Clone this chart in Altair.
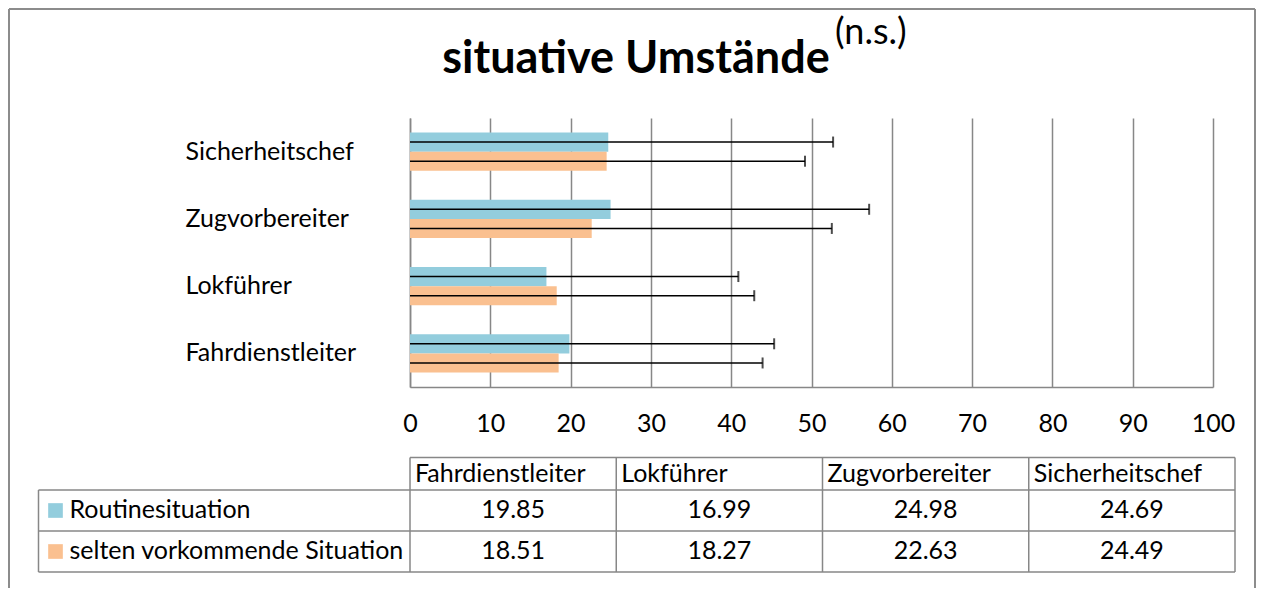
import altair as alt
import pandas as pd

# ---- data ----
categories = ["Fahrdienstleiter", "Lokführer", "Zugvorbereiter", "Sicherheitschef"]
series = ["Routinesituation", "selten vorkommende Situation"]
routine_mean = [19.85, 16.99, 24.98, 24.69]
selten_mean = [18.51, 18.27, 22.63, 24.49]
# standard deviations (length of the error bars, estimated)
routine_sd = [25.5, 23.9, 32.2, 28.0]
selten_sd = [25.4, 24.6, 29.9, 24.7]
x_ticks = [0, 10, 20, 30, 40, 50, 60, 70, 80, 90, 100]
title_main = "situative Umstände"
title_sup = "(n.s.)"

colors = ["#93CDDD", "#FAC090"]
FONT = "Lato"
FS = 25
GREY = "#878787"

rows = []
for i, s in enumerate(series):
    means = routine_mean if i == 0 else selten_mean
    sds = routine_sd if i == 0 else selten_sd
    for j, c in enumerate(categories):
        rows.append({"category": c, "series": s, "mean": means[j], "sd": sds[j],
                     "col": j, "row": i + 1})
df = pd.DataFrame(rows)

ycat = alt.Y("category:N", sort=categories[::-1],
             scale=alt.Scale(paddingInner=0.43, paddingOuter=0.215),
             axis=alt.Axis(title=None, labelFont=FONT, labelFontSize=FS, labelColor="#000",
                           labelAlign="left", labelBaseline="middle", labelPadding=225,
                           ticks=False, tickSize=0, domainColor=GREY, domainWidth=1.5,
                           grid=False))
yoff = alt.YOffset("series:N", sort=series)
colenc = alt.Color("series:N", sort=series,
                   scale=alt.Scale(domain=series, range=colors), legend=None)
xval = alt.X("mean:Q", scale=alt.Scale(domain=[0, 100], nice=False),
             axis=alt.Axis(title=None, values=x_ticks, grid=True, gridColor=GREY,
                           gridWidth=1.5, domainColor=GREY, domainWidth=1.5,
                           ticks=False, tickSize=0, labelPadding=24, labelFont=FONT,
                           labelFontSize=FS, labelColor="#000", labelFlush=False,
                           labelOverlap=False))

base = alt.Chart(df)
bars = base.mark_bar().encode(x=xval, y=ycat, yOffset=yoff, color=colenc)
err = base.transform_calculate(
    lo="max(0, datum.mean - datum.sd)", hi="datum.mean + datum.sd"
).mark_rule(color="#000", strokeWidth=1.5).encode(
    x=alt.X("lo:Q"), x2="hi:Q", y=ycat, yOffset=yoff)
caps = base.transform_calculate(hi="datum.mean + datum.sd").mark_tick(
    color="#000", thickness=2, size=11).encode(
    x=alt.X("hi:Q"), y=ycat, yOffset=yoff)
plot = alt.layer(bars, err, caps)

# ---- data table under the chart ----
ncol = len(categories)
nrow = len(series)
tx = alt.Scale(domain=[-1, 0, ncol], range=[-371.5, 0, 825], nice=False, zero=False)
ty = alt.Scale(domain=[0, 1, nrow + 1], range=[339.5, 372, 454], nice=False, zero=False)

segs = []
segs.append({"x": 0, "x2": ncol, "y": 0, "y2": 0})
for r in range(1, nrow + 2):
    segs.append({"x": -1, "x2": ncol, "y": r, "y2": r})
segs.append({"x": -1, "x2": -1, "y": 1, "y2": nrow + 1})
for c in range(0, ncol + 1):
    segs.append({"x": c, "x2": c, "y": 0, "y2": nrow + 1})
seg_df = pd.DataFrame(segs)

grid_lines = alt.Chart(seg_df).mark_rule(color=GREY, strokeWidth=1.5).encode(
    x=alt.X("x:Q", scale=tx, axis=None), x2="x2:Q",
    y=alt.Y("y:Q", scale=ty, axis=None), y2="y2:Q")

hdr_df = pd.DataFrame({"category": categories, "col": list(range(ncol)), "row": [1] * ncol})
header = alt.Chart(hdr_df).mark_text(
    align="left", baseline="alphabetic", dx=5, dy=-8, font=FONT, fontSize=FS, color="#000"
).encode(x=alt.X("col:Q", scale=tx, axis=None), y=alt.Y("row:Q", scale=ty, axis=None),
         text="category:N")

val_df = df.copy()
val_df["xc"] = val_df["col"] + 0.5
val_df["yb"] = val_df["row"] + 1
values = alt.Chart(val_df).mark_text(
    align="center", baseline="alphabetic", dy=-13, font=FONT, fontSize=FS, color="#000"
).encode(x=alt.X("xc:Q", scale=tx, axis=None), y=alt.Y("yb:Q", scale=ty, axis=None),
         text=alt.Text("mean:Q", format=".2f"))

lab_df = pd.DataFrame({"series": series, "col": [-1] * nrow,
                       "yc": [r + 1.5 for r in range(nrow)],
                       "yb": [r + 2 for r in range(nrow)]})
squares = alt.Chart(lab_df).mark_square(size=215, opacity=1, xOffset=17).encode(
    x=alt.X("col:Q", scale=tx, axis=None), y=alt.Y("yc:Q", scale=ty, axis=None),
    color=colenc)
row_labels = alt.Chart(lab_df).mark_text(
    align="left", baseline="alphabetic", dx=31, dy=-13, font=FONT, fontSize=FS, color="#000"
).encode(x=alt.X("col:Q", scale=tx, axis=None), y=alt.Y("yb:Q", scale=ty, axis=None),
         text="series:N")

table = alt.layer(grid_lines, header, values, squares, row_labels)

# ---- title and frame ----
one = alt.Data(values=[{}])
t1 = alt.Chart(one).mark_text(text=title_main, font=FONT, fontWeight="bold", fontSize=45,
                              align="center", baseline="alphabetic", color="#000").encode(
    x=alt.value(226), y=alt.value(-45))
t2 = alt.Chart(one).mark_text(text=title_sup, font=FONT, fontSize=36, align="left",
                              baseline="alphabetic", color="#000").encode(
    x=alt.value(425), y=alt.value(-74))
frame_l = alt.Chart(one).mark_rule(color="#8C8C8C", strokeWidth=2).encode(
    x=alt.value(-401), y=alt.value(-109), y2=alt.value(480))
frame_r = alt.Chart(one).mark_rule(color="#8C8C8C", strokeWidth=2).encode(
    x=alt.value(845), y=alt.value(-109), y2=alt.value(480))
frame_t = alt.Chart(one).mark_rule(color="#8C8C8C", strokeWidth=2).encode(
    x=alt.value(-401), x2=alt.value(845), y=alt.value(-109))

chart = alt.layer(frame_l, frame_r, frame_t, plot, table, t1, t2).resolve_scale(
    x="independent", y="independent", color="shared"
).properties(
    width=803, height=269,
    autosize=alt.AutoSizeParams(type="none"),
    padding={"left": 402, "top": 110, "right": 44, "bottom": 201},
    background="white",
).configure_view(stroke=None)

chart.save("out.html", embed_options={"renderer": "svg", "actions": False})
